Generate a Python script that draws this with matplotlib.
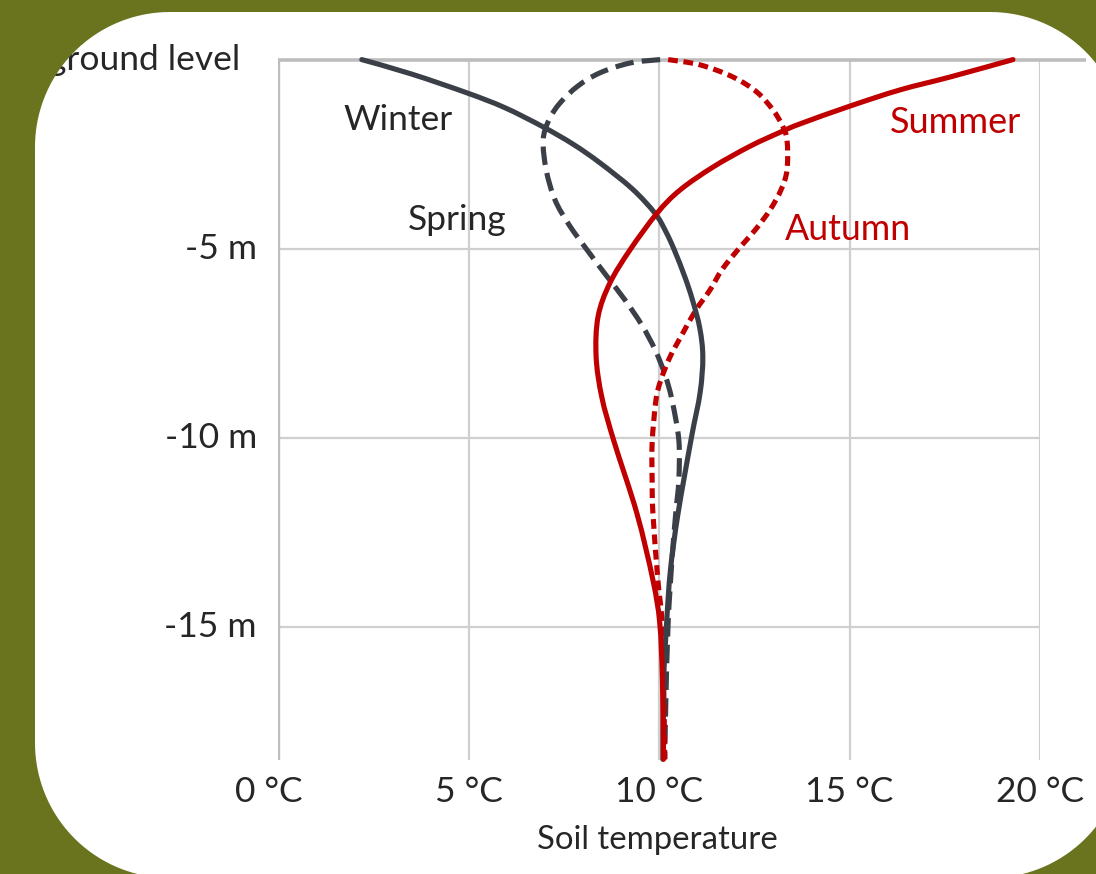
import numpy as np
import matplotlib
matplotlib.use("Agg")
import matplotlib.pyplot as plt
from matplotlib.path import Path
from matplotlib.patches import PathPatch

# ---------------- data (temperature °C, depth m) ----------------
winter_t = [2.2, 3.5, 4.96, 5.95, 6.96, 7.75, 8.45, 9.3, 9.9, 10.18, 10.4, 10.68, 10.88, 11.07, 11.15, 11.08, 10.85, 10.5, 10.3, 10.2, 10.12, 10.1]
winter_d = [0.0, -0.38, -0.88, -1.27, -1.78, -2.24, -2.73, -3.42, -4.07, -4.55, -5.03, -5.75, -6.36, -7.1, -7.86, -8.8, -10.0, -12.0, -13.5, -14.9, -16.5, -18.5]

summer_t = [19.29, 17.64, 16.33, 15.01, 13.7, 13.25, 12.39, 11.42, 10.55, 9.95, 9.24, 8.71, 8.4, 8.35, 8.5, 8.82, 9.42, 9.84, 10.02, 10.09, 10.12]
summer_d = [0.0, -0.46, -0.8, -1.23, -1.7, -1.89, -2.29, -2.84, -3.45, -4.06, -5.03, -5.91, -6.8, -7.86, -8.93, -10.1, -12.0, -13.76, -14.9, -16.4, -18.5]

spring_t = [10.03, 9.24, 8.45, 7.87, 7.4, 7.11, 6.96, 7.04, 7.27, 7.64, 8.11, 8.61, 9.11, 9.55, 9.9, 10.16, 10.34, 10.52, 10.52, 10.44, 10.34, 10.24, 10.18, 10.15]
spring_d = [0.0, -0.09, -0.35, -0.7, -1.15, -1.6, -2.13, -2.92, -3.71, -4.37, -5.03, -5.7, -6.36, -7.02, -7.68, -8.34, -9.0, -10.06, -11.12, -11.99, -13.23, -14.9, -16.93, -18.5]

autumn_t = [10.24, 11.08, 11.94, 12.57, 12.99, 13.23, 13.36, 13.36, 13.2, 12.91, 12.52, 12.07, 11.65, 11.34, 10.97, 10.6, 10.29, 10.05, 9.92, 9.82, 9.82, 9.84, 9.97, 10.08, 10.13, 10.15]
autumn_d = [0.0, -0.14, -0.46, -0.86, -1.33, -1.73, -2.13, -2.92, -3.45, -3.98, -4.51, -5.03, -5.56, -6.09, -6.62, -7.28, -7.86, -8.47, -9.0, -10.14, -11.12, -11.99, -13.76, -14.9, -16.93, -18.5]

x_ticks = [0, 5, 10, 15, 20]
x_tick_labels = ["0 °C", "5 °C", "10 °C", "15 °C", "20 °C"]
y_ticks = [-5, -10, -15]
y_tick_labels = ["-5 m", "-10 m", "-15 m"]

# ---------------- styling ----------------
GREEN = "#6a741e"
GRAY_LINE = "#3b4048"
RED = "#c00000"
GRID = "#cfcfcf"
TXT = "#262626"
FONT = ["Lato", "DejaVu Sans"]
plt.rcParams["font.family"] = FONT

W, H = 1096, 874
fig = plt.figure(figsize=(W / 100, H / 100), dpi=100, facecolor="white")

left_px, right_px, top_px, bot_px = 278, 1040, 59.6, 760
ax = fig.add_axes([left_px / W, 1 - bot_px / H, (right_px - left_px) / W, (bot_px - top_px) / H])
ax.set_facecolor("none")
YMIN = -18.52
ax.set_xlim(0, 20)
ax.set_ylim(YMIN, 0)
for s in ax.spines.values():
    s.set_visible(False)
ax.set_xticks([])
ax.set_yticks([])

# grid
for xv in x_ticks[1:]:
    ax.plot([xv, xv], [YMIN, 0], color=GRID, lw=1.6, zorder=1, solid_capstyle="butt")
for yv in y_ticks:
    ax.plot([0, 20], [yv, yv], color=GRID, lw=1.6, zorder=1, solid_capstyle="butt")
ax.plot([0, 0], [YMIN, 0], color="#bdbdbd", lw=2.4, zorder=1, solid_capstyle="butt")
ax.plot([0, 21.2], [0, 0], color="#bdbdbd", lw=2.6, zorder=1, solid_capstyle="butt", clip_on=False)


def smooth_path(xs, ys):
    """Smoothed line (like a spreadsheet 'smoothed line') through the given points."""
    p = np.column_stack([xs, ys]).astype(float)
    ext = np.vstack([p[0], p, p[-1]])
    verts = [p[0]]
    codes = [Path.MOVETO]
    for i in range(len(p) - 1):
        p0, p1, p2, p3 = ext[i], ext[i + 1], ext[i + 2], ext[i + 3]
        verts += [p1 + (p2 - p0) / 6.0, p2 - (p3 - p1) / 6.0, p2]
        codes += [Path.CURVE4] * 3
    return Path(np.array(verts), codes)


lw = 3.7
series = [
    (spring_t, spring_d, GRAY_LINE, (0, (3.6, 1.6)), 3, "butt"),
    (autumn_t, autumn_d, RED, (0, (1.9, 1.1)), 3, "butt"),
    (winter_t, winter_d, GRAY_LINE, "solid", 4, "round"),
    (summer_t, summer_d, RED, "solid", 4, "round"),
]
for xs, ys, col, ls, z, cap in series:
    patch = PathPatch(smooth_path(xs, ys), facecolor="none", edgecolor=col, lw=lw,
                      linestyle=ls, zorder=z, capstyle=cap, joinstyle="round",
                      transform=ax.transData, clip_on=False)
    ax.add_patch(patch)

fs = 25.5
# tick labels
for i, (xv, lab) in enumerate(zip(x_ticks, x_tick_labels)):
    off = -0.25 if i == 0 else 0.0
    ax.text(xv + off, YMIN - 32 / 37.82, lab, ha="center", va="center", fontsize=fs, color=TXT, clip_on=False)
for yv, lab in zip(y_ticks, y_tick_labels):
    ax.text(-21 / 38.1, yv, lab, ha="right", va="center", fontsize=fs, color=TXT, clip_on=False)
ax.text(-38 / 38.1, 0.0, "ground level", ha="right", va="center", fontsize=fs, color=TXT, clip_on=False)
ax.text(9.96, YMIN - 80 / 37.82, "Soil temperature", ha="center", va="center", fontsize=fs * 0.93, color=TXT, clip_on=False)

# series labels
ax.text(1.72, -1.6, "Winter", ha="left", va="center", fontsize=fs, color=TXT)
ax.text(3.4, -4.25, "Spring", ha="left", va="center", fontsize=fs, color=TXT)
ax.text(16.06, -1.65, "Summer", ha="left", va="center", fontsize=fs * 1.02, color=RED)
ax.text(13.3, -4.48, "Autumn", ha="left", va="center", fontsize=fs * 1.01, color=RED)

# green frame with rounded white window (mask drawn on top)
x0, x1, yt, yb, r = 35, 1125, 12, 878, 135
top, bot = H - yt, H - yb


def arc(cx, cy, a0, a1):
    a = np.linspace(np.radians(a0), np.radians(a1), 40)
    return list(zip(cx + r * np.cos(a), cy + r * np.sin(a)))


pts = []
pts += arc(x1 - r, top - r, 0, 90)
pts += arc(x0 + r, top - r, 90, 180)
pts += arc(x0 + r, bot + r, 180, 270)
pts += arc(x1 - r, bot + r, 270, 360)
inner = np.array(pts)
outer = np.array([[-5, -5], [-5, H + 5], [W + 5, H + 5], [W + 5, -5]])
verts = np.vstack([outer, outer[:1], inner, inner[:1]])
codes = ([Path.MOVETO] + [Path.LINETO] * 3 + [Path.CLOSEPOLY]
         + [Path.MOVETO] + [Path.LINETO] * (len(inner) - 1) + [Path.CLOSEPOLY])
mask = PathPatch(Path(verts / np.array([W, H]), codes), facecolor=GREEN, edgecolor="none",
                 transform=fig.transFigure, zorder=20)
fig.add_artist(mask)

fig.savefig("out.png", dpi=100, facecolor="white")
